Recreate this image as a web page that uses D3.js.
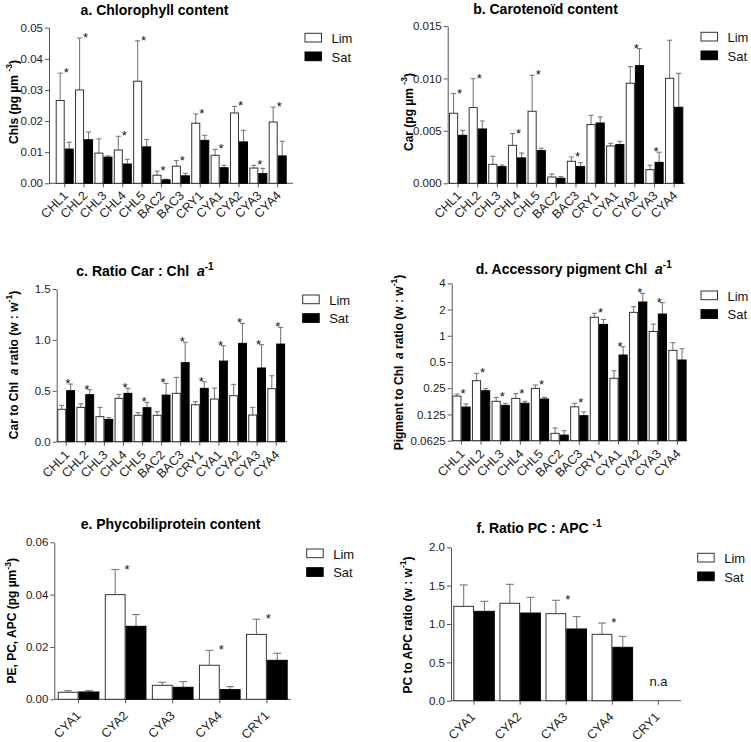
<!DOCTYPE html>
<html><head><meta charset="utf-8">
<script src="https://cdn.jsdelivr.net/npm/d3@7"></script>
<style>body{margin:0;background:#fff} text{font-family:"Liberation Sans",Arial,Helvetica,sans-serif}</style>
</head><body><svg id="c" width="751" height="742"></svg>
<script>
// ---------- data ----------
const cats12 = ["CHL1","CHL2","CHL3","CHL4","CHL5","BAC2","BAC3","CRY1","CYA1","CYA2","CYA3","CYA4"];
const catsPB = ["CYA1","CYA2","CYA3","CYA4","CRY1"];
const seriesNames = ["Lim","Sat"];

// a. Chlorophyll content (pg µm-3)
const chlLim   = [0.0266,0.0300,0.0097,0.0107,0.0328,0.0026,0.0055,0.0193,0.0090,0.0226,0.0049,0.0197];
const chlLimSD = [0.0088,0.0167,0.0046,0.0044,0.0130,0.0013,0.0018,0.0030,0.0019,0.0021,0.0009,0.0048];
const chlSat   = [0.0110,0.0140,0.0084,0.0062,0.0117,0.0011,0.0024,0.0138,0.0050,0.0133,0.0031,0.0088];
const chlSatSD = [0.0022,0.0025,0.0004,0.0015,0.0024,0.0002,0.0008,0.0016,0.0008,0.0037,0.0017,0.0047];
const chlStars = [1,1,0,1,1,1,1,1,1,1,1,1];
const chlTicks = [0,0.01,0.02,0.03,0.04,0.05];

// b. Carotenoid content (pg µm-3)
const carLim   = [0.00668,0.00722,0.00181,0.00362,0.00687,0.00060,0.00210,0.00560,0.00356,0.00954,0.00130,0.01001];
const carLimSD = [0.00187,0.00276,0.00076,0.00112,0.00343,0.00029,0.00041,0.00088,0.00025,0.00159,0.00042,0.00363];
const carSat   = [0.00458,0.00518,0.00159,0.00242,0.00312,0.00048,0.00159,0.00575,0.00369,0.01122,0.00200,0.00725];
const carSatSD = [0.00047,0.00076,0.00016,0.00047,0.00022,0.00016,0.00038,0.00058,0.00031,0.00162,0.00096,0.00324];
const carStars = [1,1,0,1,1,0,1,0,0,1,1,0];
const carTicks = [0,0.005,0.010,0.015];

// c. Ratio Car : Chl a (w:w)
const rcLim   = [0.318,0.337,0.246,0.426,0.259,0.259,0.475,0.363,0.419,0.452,0.262,0.521];
const rcLimSD = [0.039,0.036,0.091,0.039,0.026,0.036,0.157,0.030,0.108,0.111,0.075,0.127];
const rcSat   = [0.501,0.462,0.219,0.475,0.334,0.458,0.776,0.524,0.792,0.966,0.724,0.959];
const rcSatSD = [0.065,0.049,0.017,0.049,0.052,0.115,0.200,0.065,0.151,0.196,0.229,0.164];
const rcStars = [1,1,0,1,1,1,1,1,1,1,1,1];
const rcTicks = [0,0.5,1.0,1.5];

// d. Accessory pigment : Chl a (w:w), log2 axis
const apLim   = [0.203,0.305,0.177,0.191,0.249,0.0759,0.153,1.63,0.325,1.856,1.12,0.68];
const apLimSD = [0.011,0.065,0.019,0.026,0.023,0.0115,0.015,0.18,0.072,0.30,0.24,0.154];
const apSat   = [0.152,0.234,0.159,0.168,0.188,0.0725,0.121,1.35,0.601,2.44,1.776,0.527];
const apSatSD = [0.013,0.013,0.009,0.009,0.008,0.0089,0.013,0.19,0.148,0.63,0.624,0.183];
const apStars = [1,1,1,1,1,0,1,1,1,1,1,0];
const apTicks = [0.0625,0.125,0.25,0.5,1,2,4];
const apTickLabels = ["0.0625","0.125","0.25","0.5","1","2","4"];

// e. Phycobiliprotein content (pg µm-3)
const pbLim   = [0.00268,0.0400,0.00535,0.0130,0.0248];
const pbLimSD = [0.00063,0.0096,0.00115,0.0057,0.0058];
const pbSat   = [0.00280,0.0279,0.00459,0.0037,0.0149];
const pbSatSD = [0.00051,0.0045,0.00216,0.00114,0.0027];
const pbStars = [0,1,0,1,1];
const pbTicks = [0,0.02,0.04,0.06];

// f. Ratio PC : APC (w:w)
const paLim   = [1.230,1.270,1.135,0.865,null];
const paLimSD = [0.279,0.247,0.174,0.148,null];
const paSat   = [1.165,1.143,0.935,0.696,null];
const paSatSD = [0.131,0.205,0.161,0.143,null];
const paStars = [0,0,1,1,0];
const paTicks = [0,0.5,1.0,1.5,2.0];
const paNA    = [0,0,0,0,1];

// ---------- drawing ----------
const svg = d3.select("#c");
const AX = "#555", ERR = "#7a7a7a";
const FONT = '"Liberation Sans",Arial,Helvetica,sans-serif';

function rich(t, parts, size){
  let shift = 0;
  parts.forEach(p => {
    const ts = t.append("tspan").text(p.t);
    const want = p.sup ? -size*0.42 : 0;
    if (want !== shift) { ts.attr("dy", want - shift); shift = want; }
    if (p.sup) ts.attr("font-size", size*0.72);
    if (p.it) ts.attr("font-style", "italic");
  });
}

function panel(c){
  const g = svg.append("g");
  const x = d3.scaleBand().domain(c.cats).range(c.xr).paddingInner(c.pad).paddingOuter(0);
  const xs = d3.scaleBand().domain(seriesNames).range([0, x.bandwidth()]);
  const y = c.y;
  const y0 = y.range()[0];

  // y axis
  const ya = d3.axisLeft(y).tickValues(c.ticks).tickSize(4).tickSizeOuter(0)
     .tickFormat((d,i) => c.tickLabels ? c.tickLabels[i] : c.fmt(d));
  const yg = g.append("g").attr("transform", `translate(${c.axisX},0)`).call(ya)
     .attr("font-size", 11.5).attr("font-family", FONT);
  yg.select(".domain").attr("stroke", AX);
  yg.selectAll(".tick line").attr("stroke", AX);
  yg.selectAll(".tick text").attr("font-size", 11.5).attr("fill", "#222").attr("x", -6);

  // x axis line + ticks
  g.append("line").attr("x1", c.axisX).attr("x2", c.axisEnd).attr("y1", y0).attr("y2", y0).attr("stroke", AX);
  const xa = d3.axisBottom(x).tickSize(4).tickSizeOuter(0).tickFormat("");
  const xg = g.append("g").attr("transform", `translate(0,${y0})`).call(xa);
  xg.select(".domain").remove();
  xg.selectAll(".tick line").attr("stroke", AX);
  c.cats.forEach(cat => {
    const cx = x(cat) + x.bandwidth()/2;
    g.append("text").attr("text-anchor", "end").attr("font-size", 12.5).attr("fill", "#222")
     .attr("transform", `translate(${cx + c.lab[0]},${y0 + c.lab[1]}) rotate(-45)`).text(cat);
  });

  // bars
  const series = [
    {name:"Lim", v:c.lim, sd:c.limSD, fill:"#fff", stroke:"#333"},
    {name:"Sat", v:c.sat, sd:c.satSD, fill:"#000", stroke:"#000"}
  ];
  series.forEach(s => {
    c.cats.forEach((cat, i) => {
      const v = s.v[i]; if (v == null) return;
      const bx = x(cat) + xs(s.name), bw = xs.bandwidth();
      const top = y(v), et = y(v + s.sd[i]), mx = bx + bw/2;
      g.append("line").attr("x1", mx).attr("x2", mx).attr("y1", top).attr("y2", et)
        .attr("stroke", ERR).attr("stroke-width", 1.1);
      const cw = Math.max(5, bw*0.38);
      g.append("line").attr("x1", mx - cw/2).attr("x2", mx + cw/2).attr("y1", et).attr("y2", et)
        .attr("stroke", ERR).attr("stroke-width", 1.1);
      g.append("rect").attr("x", bx + 0.5).attr("y", top).attr("width", bw - 1).attr("height", y0 - top)
        .attr("fill", s.fill).attr("stroke", s.stroke).attr("stroke-width", 1);
    });
  });

  // significance stars
  c.cats.forEach((cat, i) => {
    if (!c.stars[i]) return;
    const t1 = y(c.lim[i] + c.limSD[i]), t2 = y(c.sat[i] + c.satSD[i]);
    g.append("text").attr("x", x(cat) + x.bandwidth()/2 + 1.5).attr("y", Math.min(t1, t2) + 4)
      .attr("text-anchor", "middle").attr("font-size", 13).attr("fill", "#111").text("*");
  });
  if (c.na) c.cats.forEach((cat, i) => {
    if (!c.na[i]) return;
    g.append("text").attr("x", x(cat) + x.bandwidth()/2).attr("y", y0 - 15)
      .attr("text-anchor", "middle").attr("font-size", 13).attr("fill", "#111").text("n.a");
  });

  // title
  const tt = g.append("text").attr("x", c.tx).attr("y", c.ty).attr("text-anchor", "middle")
    .attr("font-size", 14).attr("font-weight", "bold").style("white-space", "pre");
  rich(tt, c.title, 14);

  // y label
  const yl = g.append("text").attr("transform", `translate(${c.ylx},${c.yly}) rotate(-90)`)
    .attr("text-anchor", "middle").attr("font-size", 12).attr("font-weight", "bold").style("white-space", "pre");
  rich(yl, c.ylab, 12);

  // legend
  series.forEach((s, k) => {
    const ly = c.leg[1] + k*18.7;
    g.append("rect").attr("x", c.leg[0]).attr("y", ly).attr("width", 16.5).attr("height", 8.7)
      .attr("fill", s.fill).attr("stroke", s.stroke);
    g.append("text").attr("x", c.leg[0] + 26.5).attr("y", ly + 9.5).attr("font-size", 13).attr("fill", "#111").text(s.name);
  });
}

panel({cats:cats12, lim:chlLim, limSD:chlLimSD, sat:chlSat, satSD:chlSatSD, stars:chlStars,
  y:d3.scaleLinear().domain([0,0.05]).range([183.3,27.7]), ticks:chlTicks, fmt:d3.format(".2f"),
  xr:[55.7,286.7], pad:0.07, axisX:49, axisEnd:293, lab:[4,13],
  title:[{t:"a. Chlorophyll content"}], tx:154.5, ty:15,
  ylab:[{t:"Chls (pg µm "},{t:"-3",sup:1},{t:")"}], ylx:17.5, yly:102,
  leg:[305,33.3]});

panel({cats:cats12, lim:carLim, limSD:carLimSD, sat:carSat, satSD:carSatSD, stars:carStars,
  y:d3.scaleLinear().domain([0,0.015]).range([183.3,26]), ticks:carTicks, fmt:d3.format(".3f"),
  xr:[449,683.3], pad:0.07, axisX:447.7, axisEnd:685, lab:[4,13],
  title:[{t:"b. Carotenoïd content"}], tx:545.5, ty:14,
  ylab:[{t:"Car (pg µm "},{t:"-3",sup:1},{t:")"}], ylx:412.5, yly:112,
  leg:[701,32.3]});

panel({cats:cats12, lim:rcLim, limSD:rcLimSD, sat:rcSat, satSD:rcSatSD, stars:rcStars,
  y:d3.scaleLinear().domain([0,1.5]).range([441.7,289]), ticks:rcTicks, fmt:d3.format(".1f"),
  xr:[57.3,285.1], pad:0.07, axisX:56.7, axisEnd:287, lab:[4,14],
  title:[{t:"c. Ratio Car : Chl  "},{t:"a",it:1},{t:"-1",sup:1}], tx:145, ty:275.7,
  ylab:[{t:"Car to Chl  "},{t:"a",it:1},{t:" ratio (w : w"},{t:"-1",sup:1},{t:")"}], ylx:17.5, yly:365,
  leg:[302.7,295]});

panel({cats:cats12, lim:apLim, limSD:apLimSD, sat:apSat, satSD:apSatSD, stars:apStars,
  y:d3.scaleLog().base(2).domain([0.0625,4]).range([440.7,283.3]), ticks:apTicks, tickLabels:apTickLabels,
  xr:[452.3,686.6], pad:0.07, axisX:451.7, axisEnd:687, lab:[4,14],
  title:[{t:"d. Accessory pigment Chl  "},{t:"a",it:1},{t:"-1",sup:1}], tx:573.8, ty:274,
  ylab:[{t:"Pigment to Chl  "},{t:"a",it:1},{t:" ratio (w : w"},{t:"-1",sup:1},{t:")"}], ylx:402.5, yly:362.5,
  leg:[701,291]});

panel({cats:catsPB, lim:pbLim, limSD:pbLimSD, sat:pbSat, satSD:pbSatSD, stars:pbStars,
  y:d3.scaleLinear().domain([0,0.06]).range([699.3,542.3]), ticks:pbTicks, fmt:d3.format(".2f"),
  xr:[57.7,287.7], pad:0.115, axisX:54.3, axisEnd:290.7, lab:[3,17],
  title:[{t:"e. Phycobiliprotein content"}], tx:170.5, ty:529.3,
  ylab:[{t:"PE, PC, APC (pg µm"},{t:"-3",sup:1},{t:")"}], ylx:16, yly:620.8,
  leg:[306.7,549]});

panel({cats:catsPB, lim:paLim, limSD:paLimSD, sat:paSat, satSD:paSatSD, stars:paStars, na:paNA,
  y:d3.scaleLinear().domain([0,2]).range([700.7,547.3]), ticks:paTicks, fmt:d3.format(".1f"),
  xr:[453.3,679.2], pad:0.1, axisX:451, axisEnd:681, lab:[2,17],
  title:[{t:"f. Ratio PC : APC "},{t:"-1",sup:1}], tx:539, ty:533.3,
  ylab:[{t:"PC to APC ratio (w : w"},{t:"-1",sup:1},{t:")"}], ylx:411.5, yly:625,
  leg:[697.7,553.3]});
</script>
</body></html>
